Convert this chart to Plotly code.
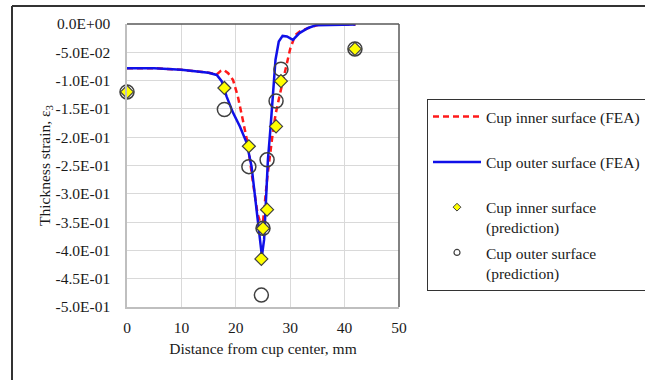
import plotly.graph_objects as go

# FEA thickness strain profiles (distance from cup center in mm)
inner_fea_x = [0, 5, 10, 15, 16.5, 17.2, 17.8, 18.6, 19.5, 20.4, 21.3, 22.2, 23.1, 24.0,
               24.6, 24.9, 25.2, 25.8, 26.7, 27.3, 28.2, 29.1, 30.0, 30.9, 31.8, 33.4,
               35.3, 38, 42]
inner_fea_y = [-0.078, -0.078, -0.081, -0.086, -0.089, -0.083, -0.081, -0.087, -0.099,
               -0.129, -0.170, -0.212, -0.276, -0.335, -0.354, -0.360, -0.330, -0.270,
               -0.200, -0.160, -0.120, -0.080, -0.044, -0.020, -0.013, -0.007, -0.001,
               -0.001, -0.001]

outer_fea_x = [0, 5, 10, 15, 16.5, 17.4, 18.3, 19.5, 20.75, 22.0, 22.9, 23.5, 24.1, 24.5,
               24.8, 25.2, 25.5, 25.9, 26.4, 26.85, 27.3, 27.9, 28.6, 29.4, 30.5, 31.7,
               33.3, 34.8, 38, 42]
outer_fea_y = [-0.078, -0.078, -0.081, -0.086, -0.090, -0.101, -0.128, -0.157, -0.181,
               -0.210, -0.252, -0.299, -0.346, -0.387, -0.410, -0.381, -0.310, -0.240,
               -0.181, -0.122, -0.063, -0.031, -0.021, -0.022, -0.028, -0.016, -0.007,
               -0.002, -0.001, -0.001]

# Predicted thickness strains
inner_pred_x = [0, 17.9, 22.4, 24.7, 25.0, 25.75, 27.4, 28.3, 41.9]
inner_pred_y = [-0.120, -0.113, -0.216, -0.415, -0.361, -0.328, -0.181, -0.101, -0.044]

outer_pred_x = [0, 17.9, 22.4, 24.7, 25.0, 25.75, 27.4, 28.3, 41.9]
outer_pred_y = [-0.120, -0.151, -0.252, -0.479, -0.361, -0.240, -0.136, -0.080, -0.044]

y_ticks = [0, -0.05, -0.1, -0.15, -0.2, -0.25, -0.3, -0.35, -0.4, -0.45, -0.5]
y_tick_text = ["0.0E+00", "-5.0E-02", "-1.0E-01", "-1.5E-01", "-2.0E-01", "-2.5E-01",
               "-3.0E-01", "-3.5E-01", "-4.0E-01", "-4.5E-01", "-5.0E-01"]
x_ticks = [0, 10, 20, 30, 40, 50]

FONT = "Liberation Serif, Times New Roman, serif"
FS = 15.5
RED = "#ff1a1a"
BLUE = "#1010e8"
EDGE = "#404040"

fig = go.Figure()

fig.add_trace(go.Scatter(x=inner_fea_x, y=inner_fea_y, mode="lines",
                         line=dict(color=RED, width=2.5, dash="6px,4px"),
                         showlegend=False))
fig.add_trace(go.Scatter(x=outer_fea_x, y=outer_fea_y, mode="lines",
                         line=dict(color=BLUE, width=2.5),
                         showlegend=False))
fig.add_trace(go.Scatter(x=outer_pred_x, y=outer_pred_y, mode="markers", cliponaxis=False,
                         marker=dict(symbol="circle-open", size=14, color=EDGE,
                                     line=dict(color=EDGE, width=1.5)),
                         showlegend=False))
fig.add_trace(go.Scatter(x=inner_pred_x, y=inner_pred_y, mode="markers", cliponaxis=False,
                         marker=dict(symbol="diamond", size=10, color="#ffff00",
                                     line=dict(color=EDGE, width=1.2)),
                         showlegend=False))

# Legend entries
legend_items = [
    dict(name="Cup inner surface (FEA)<br>&nbsp;", mode="lines",
         line=dict(color=RED, width=2.5, dash="6px,4px")),
    dict(name="Cup outer surface (FEA)<br>&nbsp;", mode="lines",
         line=dict(color=BLUE, width=2.5)),
    dict(name="Cup inner surface<br>(prediction)", mode="markers",
         marker=dict(symbol="diamond", size=6, color="#ffff00",
                     line=dict(color=EDGE, width=1))),
    dict(name="Cup outer surface<br>(prediction)", mode="markers",
         marker=dict(symbol="circle-open", size=6, color=EDGE,
                     line=dict(color=EDGE, width=1.2))),
]
for i, item in enumerate(legend_items):
    fig.add_trace(go.Scatter(x=[None], y=[None], legendgroup=f"g{i}", **item))

W, H = 645, 380
L, R, T, B = 127, 246, 24, 73
pw, ph = W - L - R, H - T - B

def px_x(p):
    return (p - L) / pw

def px_y(p):
    return 1 - (p - T) / ph

shapes = [
    # plot frame: top and right edges
    dict(type="line", xref="paper", yref="paper", x0=0, x1=1, y0=1, y1=1,
         line=dict(color="#595959", width=1.5)),
    dict(type="line", xref="paper", yref="paper", x0=1, x1=1, y0=0, y1=1,
         line=dict(color="#595959", width=1.5)),
    # outer chart frame
    dict(type="line", xref="paper", yref="paper", x0=px_x(12), x1=px_x(W + 5),
         y0=px_y(6), y1=px_y(6), line=dict(color="#333333", width=2)),
    dict(type="line", xref="paper", yref="paper", x0=px_x(12), x1=px_x(12),
         y0=px_y(6), y1=px_y(H + 5), line=dict(color="#333333", width=2)),
]

fig.update_layout(
    width=W, height=H,
    margin=dict(l=L, r=R, t=T, b=B, autoexpand=False),
    paper_bgcolor="white", plot_bgcolor="white",
    font=dict(family=FONT, size=FS, color="#1a1a1a"),
    shapes=shapes,
    legend=dict(x=px_x(427), y=px_y(99), xanchor="left", yanchor="top",
                bordercolor="#333333", borderwidth=1, bgcolor="white",
                traceorder="grouped", tracegroupgap=2, valign="top",
                itemwidth=48, font=dict(family=FONT, size=FS, color="#1a1a1a")),
    xaxis=dict(range=[0, 50], tickvals=x_ticks, showgrid=True, gridcolor="#d9d9d9",
               gridwidth=1, showline=True, linecolor="#bfbfbf", linewidth=1.5,
               zeroline=False, ticks="", ticklabelstandoff=6,
               title=dict(text="Distance from cup center, mm", standoff=8,
                          font=dict(family=FONT, size=FS))),
    yaxis=dict(range=[-0.5, 0], tickvals=y_ticks, ticktext=y_tick_text, showgrid=True,
               gridcolor="#d9d9d9", gridwidth=1, showline=True, linecolor="#bfbfbf",
               linewidth=1.5, zeroline=False, ticks="", ticklabelstandoff=12,
               title=dict(text="Thickness strain, ε<sub>3</sub>", standoff=0,
                          font=dict(family=FONT, size=FS))),
)

fig.write_html("out.html")
